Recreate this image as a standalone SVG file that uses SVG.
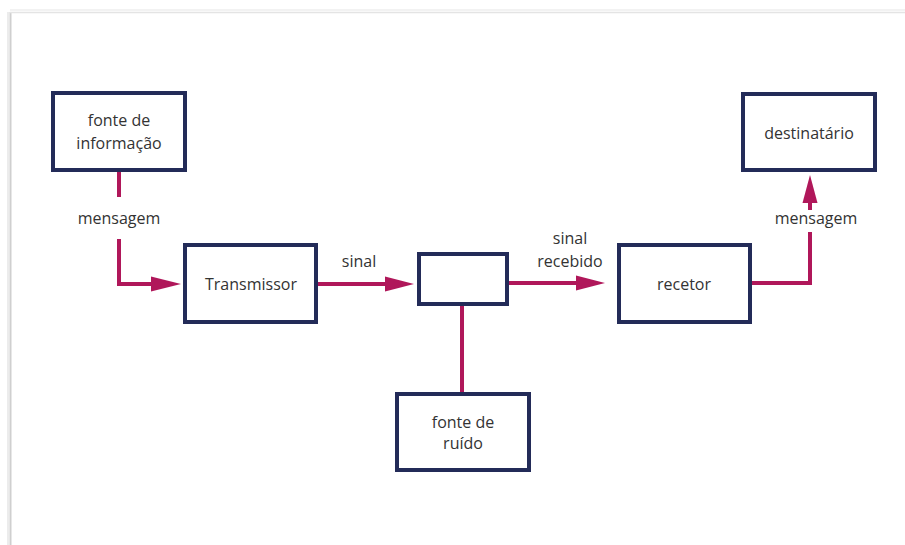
<svg xmlns="http://www.w3.org/2000/svg" width="905" height="545" viewBox="0 0 905 545">
  <style>
    .box { fill: #ffffff; stroke: #232b58; stroke-width: 4; }
    .conn { fill: none; stroke: #b0175a; stroke-width: 4; }
    .head { fill: #b0175a; }
    text { font-family: "Open Sans", "Noto Sans", "DejaVu Sans", sans-serif; font-size: 16px; fill: #333333; text-anchor: middle; }
  </style>
  <rect x="0" y="0" width="905" height="545" fill="#ffffff"/>
  <g id="card">
    <rect x="10" y="12" width="900" height="540" fill="#ffffff"/>
    <line x1="10.5" y1="12" x2="10.5" y2="545" stroke="#cfcfcf" stroke-width="2"/>
    <line x1="8" y1="12" x2="8" y2="545" stroke="#ececec" stroke-width="2"/>
    <line x1="10" y1="12.5" x2="905" y2="12.5" stroke="#e4e4e4" stroke-width="1.5"/>
    <line x1="10" y1="10" x2="905" y2="10" stroke="#f2f2f2" stroke-width="2"/>
  </g>
  <g id="connectors">
    <polyline class="conn" points="119,172 119,197"/>
    <polyline class="conn" points="119,239 119,284 152,284"/>
    <polygon class="head" points="151,276.5 181,284 151,291.5"/>
    <line class="conn" x1="318" y1="284" x2="386" y2="284"/>
    <polygon class="head" points="385,276.5 414,284 385,291.5"/>
    <line class="conn" x1="509" y1="283" x2="577" y2="283"/>
    <polygon class="head" points="576,275.5 605,283 576,290.5"/>
    <polyline class="conn" points="752,283 810,283 810,232"/>
    <line class="conn" x1="810" y1="210" x2="810" y2="202"/>
    <polygon class="head" points="802.5,203 810,175 817.5,203"/>
    <line class="conn" x1="462" y1="306" x2="462" y2="392"/>
    <text x="119" y="224">mensagem</text>
    <text x="359" y="267">sinal</text>
    <text x="570" y="244">sinal</text>
    <text x="570" y="267">recebido</text>
    <text x="816" y="224">mensagem</text>
  </g>
  <g id="fonte-informacao">
    <rect class="box" x="53" y="93" width="132" height="77"/>
    <text x="119" y="126">fonte de</text>
    <text x="119" y="149">informação</text>
  </g>
  <g id="transmissor">
    <rect class="box" x="185" y="245" width="131" height="77"/>
    <text x="251" y="290">Transmissor</text>
  </g>
  <g id="canal">
    <rect class="box" x="419" y="254" width="88" height="50"/>
  </g>
  <g id="fonte-ruido">
    <rect class="box" x="397" y="394" width="132" height="76"/>
    <text x="463" y="428">fonte de</text>
    <text x="463" y="449">ruído</text>
  </g>
  <g id="recetor">
    <rect class="box" x="619" y="245" width="131" height="77"/>
    <text x="684" y="290">recetor</text>
  </g>
  <g id="destinatario">
    <rect class="box" x="743" y="94" width="132" height="76"/>
    <text x="809" y="139">destinatário</text>
  </g>
</svg>
